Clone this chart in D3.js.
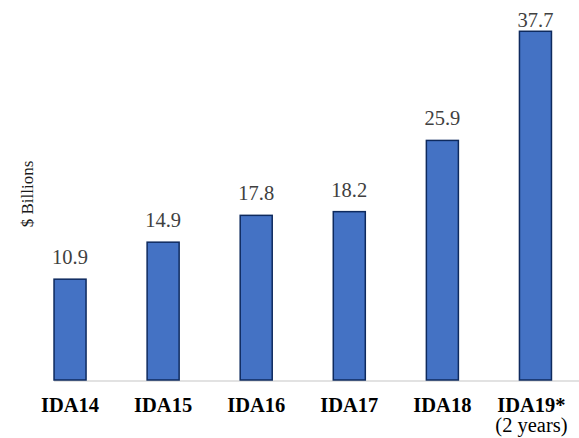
<!DOCTYPE html>
<html>
<head>
<meta charset="utf-8">
<script src="https://cdn.jsdelivr.net/npm/d3@7"></script>
<style>
  html, body { margin: 0; padding: 0; background: #fff; }
  svg { display: block; }
  text { font-family: "Liberation Serif", Tinos, "Times New Roman", Times, "Noto Serif", "DejaVu Serif", serif; }
</style>
</head>
<body>
<svg id="chart" width="579" height="438"></svg>
<script>
const categories = ["IDA14", "IDA15", "IDA16", "IDA17", "IDA18", "IDA19*"];
const subLabels = ["", "", "", "", "", "(2 years)"];
const values = [10.9, 14.9, 17.8, 18.2, 25.9, 37.7];
const yTitle = "$ Billions";

const svg = d3.select("#chart");
const W = 579, H = 438;
const baseY = 380;

const x = d3.scaleBand()
  .domain(categories)
  .range([23.5, 582])
  .paddingInner(0.656)
  .paddingOuter(0.328);

const y = d3.scaleLinear()
  .domain([0, 40])
  .range([baseY, 10]);

// baseline
svg.append("line")
  .attr("x1", x(categories[0]))
  .attr("x2", W)
  .attr("y1", baseY + 1)
  .attr("y2", baseY + 1)
  .attr("stroke", "#D9D9D9")
  .attr("stroke-width", 1.5);

// bars
svg.selectAll("rect.bar")
  .data(values)
  .enter().append("rect")
  .attr("class", "bar")
  .attr("x", (d, i) => x(categories[i]))
  .attr("y", d => y(d))
  .attr("width", x.bandwidth())
  .attr("height", d => baseY - y(d))
  .attr("fill", "#4472C4")
  .attr("stroke", "#0E2A5E")
  .attr("stroke-width", 1.5);

// value labels
svg.selectAll("text.val")
  .data(values)
  .enter().append("text")
  .attr("class", "val")
  .attr("x", (d, i) => x(categories[i]) + x.bandwidth() / 2)
  .attr("y", d => Math.max(y(d) - 15, 27))
  .attr("text-anchor", "middle")
  .attr("font-size", 20.5)
  .attr("fill", "#404040")
  .text(d => d.toFixed(1));

// category labels
const cat = svg.selectAll("g.cat")
  .data(categories)
  .enter().append("g")
  .attr("class", "cat")
  .attr("transform", d => `translate(${x(d) + x.bandwidth() / 2 - (d === "IDA19*" ? 4 : 0)},0)`);

cat.append("text")
  .attr("y", 412)
  .attr("text-anchor", "middle")
  .attr("font-weight", "bold")
  .attr("font-size", 20.5)
  .attr("fill", "#000")
  .text(d => d);

cat.append("text")
  .attr("y", 432)
  .attr("text-anchor", "middle")
  .attr("font-size", 20.5)
  .attr("fill", "#000")
  .text((d, i) => subLabels[i]);

// y axis title
svg.append("text")
  .attr("transform", "translate(33,194) rotate(-90)")
  .attr("text-anchor", "middle")
  .attr("font-size", 17)
  .attr("fill", "#1a1a1a")
  .text(yTitle);
</script>
</body>
</html>
